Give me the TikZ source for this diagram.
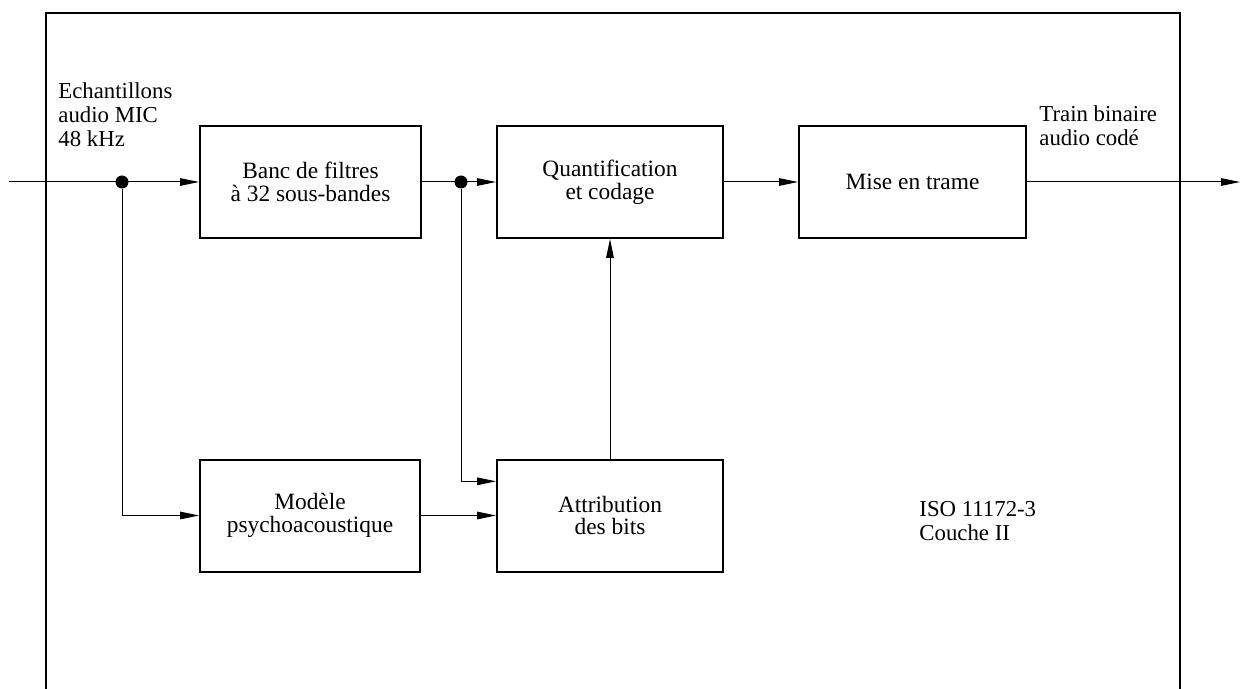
\documentclass[tikz,border=0pt]{standalone}
\usepackage{fontspec}
\setmainfont{Liberation Serif}
\usetikzlibrary{positioning}
\usetikzlibrary{calc}
\usetikzlibrary{arrows.meta}

\begin{document}
\begin{tikzpicture}[x=0.5pt, y=-0.5pt,
    bloc/.style={draw, line width=1pt, minimum height=56pt, inner sep=0pt, align=center,
        font=\fontsize{11.7pt}{11.3pt}\selectfont},
    lien/.style={line width=0.5pt, -{Triangle[length=9.5pt, width=3.8pt]}},
    point/.style={circle, fill, inner sep=0pt, minimum size=6.5pt},
    etiq/.style={inner sep=0pt, align=left, font=\fontsize{11.4pt}{12pt}\selectfont}]
    \useasboundingbox (0,0) rectangle (1241,689);

    % Frame, open at the bottom
    \draw[line width=1pt] (46,689) -- (46,13) -- (1180,13) -- (1180,689);

    % Blocks
    \node[bloc, minimum width=110.5pt] (banc) at (310.5,182) {Banc de filtres\\à 32 sous-bandes};
    \node[bloc, minimum width=113pt] (quant) at (610,182) {Quantification\\et codage};
    \node[bloc, minimum width=113.5pt] (trame) at (912.5,182) {Mise en trame};
    \node[bloc, minimum width=110pt] (modele) at (310,515.5) {Modèle\\psychoacoustique};
    \node[bloc, minimum width=113pt] (attrib) at (610,515.5) {Attribution\\des bits};

    % Branch points and free ends
    \node[point] (p1) at (122,182) {};
    \node[point] (p2) at (461,182) {};
    \coordinate (entree) at (9,182);
    \coordinate (sortie) at (1240,182);

    % Labels
    \node[etiq, anchor=north west] (ech) at (58,82) {Echantillons\\audio MIC\\48 kHz};
    \node[etiq, anchor=north west] (train) at (1039,105) {Train binaire\\audio codé};
    \node[etiq, anchor=north west] (iso) at (919,501) {ISO 11172-3\\Couche II};

    % Connectors
    \draw[lien] (entree) -- (banc.west);
    \draw[lien] (banc.east) -- (quant.west);
    \draw[lien] (quant.east) -- (trame.west);
    \draw[lien] (trame.east) -- (sortie);
    \draw[lien] (p1) |- (modele.west);
    \draw[lien] (p2) |- ($(attrib.north west)!0.2!(attrib.south west)$);
    \draw[lien] (modele.east) -- (attrib.west);
    \draw[lien] (attrib.north) -- (quant.south);
\end{tikzpicture}
\end{document}
